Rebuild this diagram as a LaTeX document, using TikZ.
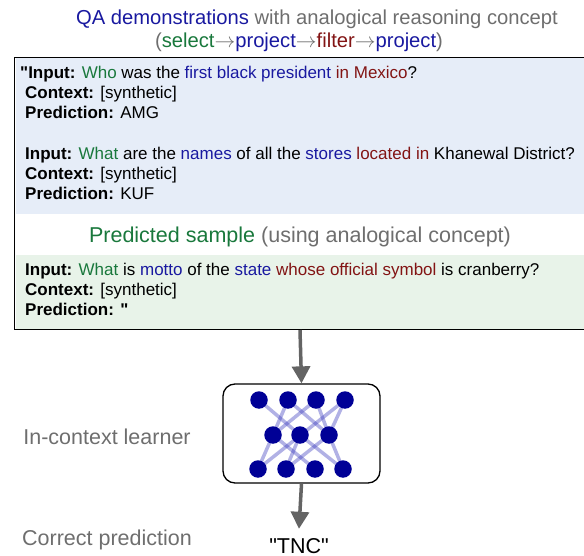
\documentclass[tikz,border=0pt]{standalone}
\usepackage{fontspec}
\setmainfont{Liberation Sans}
\usetikzlibrary{arrows.meta}
\definecolor{cgreen}{RGB}{25,120,60}
\definecolor{cblue}{RGB}{25,25,160}
\definecolor{cdred}{RGB}{130,20,20}
\definecolor{cgray}{RGB}{110,110,110}
\definecolor{bluefill}{RGB}{230,237,248}
\definecolor{greenfill}{RGB}{232,243,233}
\definecolor{navy}{RGB}{0,0,150}
\definecolor{edgeblue}{RGB}{60,60,190}
\definecolor{arrowgray}{RGB}{100,100,100}
\newcommand\mygreen[1]{\textcolor{cgreen}{#1}}
\newcommand\myblue[1]{\textcolor{cblue}{#1}}
\newcommand\myred[1]{\textcolor{cdred}{#1}}
\newcommand\mygray[1]{\textcolor{cgray}{#1}}
\newcommand\dq{\XeTeXglyph\XeTeXcharglyph"22\relax}
\newcommand\arr{\mygray{$\rightarrow$}}
\begin{document}
\begin{tikzpicture}[x=1pt,y=-1pt,
  body/.style={anchor=base west,inner sep=0pt,font=\fontsize{17}{20}\selectfont},
  big/.style={inner sep=0pt,font=\fontsize{20.2}{24}\selectfont},
  lab/.style={inner sep=0pt,font=\fontsize{21.5}{25}\selectfont},
  neuron/.style={circle,fill=navy,minimum size=17.5pt,inner sep=0pt},
  syn/.style={edgeblue,opacity=0.4,line width=3.5pt},
  flow/.style={arrowgray,line width=3.5pt,-{Triangle[length=17pt,width=18pt]}}]
\useasboundingbox (0,0) rectangle (584,556);
% title
\node[big,anchor=base] (t1) at (317,25) {\myblue{QA demonstrations} \mygray{with analogical reasoning concept}};
\node[big,anchor=base] (t2) at (299,48) {\mygray{(}\mygreen{select}\arr\myblue{project}\arr\myred{filter}\arr\myblue{project}\mygray{)}};
% fills
\fill[bluefill] (16,58) rectangle (584,214);
\fill[greenfill] (16,255) rectangle (584,329);
\draw[line width=1.4pt] (590,57.5) -- (14.5,57.5) -- (14.5,329.5) -- (590,329.5);
\coordinate (boxbot) at (300,330);
% demo 1
\node[body] (a1) at (20,79) {\textbf{\dq Input:} \mygreen{Who} was the \myblue{first black president} \myred{in Mexico}?};
\node[body] (a2) at (25,99) {\textbf{Context:} [synthetic]};
\node[body] (a3) at (25,119) {\textbf{Prediction:} AMG};
% demo 2
\node[body] (b1) at (25,160) {\textbf{Input:} \mygreen{What} are the \myblue{names} of all the \myblue{stores} \myred{located in} Khanewal District?};
\node[body] (b2) at (25,180) {\textbf{Context:} [synthetic]};
\node[body] (b3) at (25,200) {\textbf{Prediction:} KUF};
% predicted title
\node[lab,anchor=base] (ps) at (300,243) {\mygreen{Predicted sample} \mygray{(using analogical concept)}};
% predicted sample
\node[body] (c1) at (25,276) {\textbf{Input:} \mygreen{What} is \myblue{motto} of the \myblue{state} \myred{whose official symbol} is cranberry?};
\node[body] (c2) at (25,296) {\textbf{Context:} [synthetic]};
\node[body] (c3) at (25,316) {\textbf{Prediction: \dq}};
% network box
\node[draw,line width=1.3pt,rounded corners=12pt,minimum width=157pt,minimum height=99pt,inner sep=0pt] (net) at (301.5,433.5) {};
\coordinate (T1) at (259,400); \coordinate (T2) at (288,400); \coordinate (T3) at (316,400); \coordinate (T4) at (345,400);
\coordinate (M1) at (273,435); \coordinate (M2) at (300,435); \coordinate (M3) at (329,435);
\coordinate (B1) at (258,469); \coordinate (B2) at (286,469); \coordinate (B3) at (315,469); \coordinate (B4) at (343,469);
\draw[syn] (T1) -- (M2);
\draw[syn] (T2) -- (M1);
\draw[syn] (T2) -- (M3);
\draw[syn] (T3) -- (M1);
\draw[syn] (T3) -- (M3);
\draw[syn] (T4) -- (B1);
\draw[syn] (T4) -- (M3);
\draw[syn] (M1) -- (B1);
\draw[syn] (M1) -- (B3);
\draw[syn] (M2) -- (B2);
\draw[syn] (M2) -- (B4);
\draw[syn] (M3) -- (B2);
\draw[syn] (M3) -- (B4);
\foreach \n in {T1,T2,T3,T4,M1,M2,M3,B1,B2,B3,B4} \node[neuron] (n\n) at (\n) {};
% labels
\node[lab,anchor=base,text=cgray] (lbl1) at (107,444) {In-context learner};
\node[lab,anchor=base,text=cgray] (lbl2) at (107,545) {Correct prediction};
\node[lab,anchor=base] (out) at (299,553) {\dq TNC\dq};
% arrows
\draw[flow] (boxbot) -- (net.north);
\draw[flow] (net.south) -- ([yshift=9pt]out.north);
\end{tikzpicture}
\end{document}
